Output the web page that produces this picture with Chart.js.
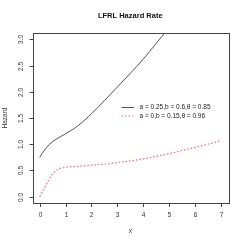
<!DOCTYPE html>
<html>
<head>
<meta charset="utf-8">
<script src="https://cdn.jsdelivr.net/npm/chart.js@4.4.0/dist/chart.umd.min.js"></script>
<style>
  html, body { margin: 0; padding: 0; background: #fff; }
  #wrap { width: 244px; height: 244px; position: relative; }
</style>
</head>
<body>
<div id="wrap"><canvas id="hazardChart"></canvas></div>
<script>
// valores
const xBlack = [0, 0.1, 0.25, 0.5, 0.75, 1, 1.5, 2, 2.5, 3, 3.5, 4, 4.5, 5];
const yBlack = [0.75, 0.83, 0.93, 1.05, 1.13, 1.20, 1.36, 1.58, 1.83, 2.09, 2.35, 2.62, 2.92, 3.22];
const xRed = [0, 0.1, 0.25, 0.5, 0.75, 1, 1.5, 2, 2.5, 3, 3.5, 4, 4.5, 5, 5.5, 6, 6.5, 7];
const yRed = [0, 0.09, 0.23, 0.44, 0.53, 0.56, 0.58, 0.60, 0.62, 0.65, 0.68, 0.72, 0.77, 0.82, 0.88, 0.94, 1.00, 1.07];
const xTicks = [0, 1, 2, 3, 4, 5, 6, 7];
const yTicks = [0, 0.5, 1, 1.5, 2, 2.5, 3];
const yTickLabels = ['0.0', '0.5', '1.0', '1.5', '2.0', '2.5', '3.0'];
const legendLabels = ['a = 0.25,b = 0.6,\u03b8 = 0.85', 'a = 0,b = 0.15,\u03b8 = 0.96'];

const FONT = '"Liberation Sans", Arial, sans-serif';
const BLACK = '#555';
const RED = '#ff6363';

function toPoints(xs, ys) {
    return xs.map((x, i) => ({ x: x, y: ys[i] }));
}

// desenha eixos, títulos e legenda no estilo R
const rStyle = {
    id: 'rStyle',
    afterDraw(chart) {
        const c = chart.ctx;
        const a = chart.chartArea;
        const xs = chart.scales.x;
        const ys = chart.scales.y;
        c.save();
        c.strokeStyle = '#444';
        c.lineWidth = 1;
        c.strokeRect(Math.round(a.left) + 0.5, Math.round(a.top) + 0.5,
            Math.round(a.right - a.left), Math.round(a.bottom - a.top));

        c.fillStyle = '#333';
        c.font = '6.5px ' + FONT;
        c.textAlign = 'center';
        c.textBaseline = 'middle';
        c.beginPath();
        xTicks.forEach(v => {
            const px = Math.round(xs.getPixelForValue(v)) + 0.5;
            c.moveTo(px, Math.round(a.bottom));
            c.lineTo(px, Math.round(a.bottom) + 4);
            c.fillText(String(v), px, 215);
        });
        yTicks.forEach((v, i) => {
            const py = Math.round(ys.getPixelForValue(v)) + 0.5;
            c.moveTo(Math.round(a.left) - 3.5, py);
            c.lineTo(Math.round(a.left), py);
            c.save();
            c.translate(21.5, py);
            c.rotate(-Math.PI / 2);
            c.fillText(yTickLabels[i], 0, 0);
            c.restore();
        });
        c.stroke();

        // títulos dos eixos
        c.fillText('x', (a.left + a.right) / 2, 231.5);
        c.save();
        c.translate(5.5, (a.top + a.bottom) / 2);
        c.rotate(-Math.PI / 2);
        c.fillText('Hazard', 0, 0);
        c.restore();

        c.fillStyle = '#111';
        c.font = 'bold 7.5px ' + FONT;
        c.fillText('LFRL Hazard Rate', (a.left + a.right) / 2, 16);

        // legenda
        c.font = '6.5px ' + FONT;
        c.textAlign = 'left';
        c.fillStyle = '#222';
        const rows = [107.5, 116];
        c.strokeStyle = BLACK;
        c.setLineDash([]);
        c.beginPath();
        c.moveTo(121.5, rows[0]);
        c.lineTo(134, rows[0]);
        c.stroke();
        c.strokeStyle = RED;
        c.setLineDash([1.5, 2]);
        c.beginPath();
        c.moveTo(121.5, rows[1]);
        c.lineTo(134, rows[1]);
        c.stroke();
        c.setLineDash([]);
        c.fillText(legendLabels[0], 139.5, rows[0]);
        c.fillText(legendLabels[1], 139.5, rows[1]);
        c.restore();
    }
};

const ctx = document.getElementById('hazardChart').getContext('2d');
const myChart = new Chart(ctx, {
    type: 'scatter',
    data: {
        datasets: [
            {
                label: legendLabels[0],
                data: toPoints(xBlack, yBlack),
                showLine: true,
                borderColor: BLACK,
                borderWidth: 1,
                pointRadius: 0,
                cubicInterpolationMode: 'monotone'
            },
            {
                label: legendLabels[1],
                data: toPoints(xRed, yRed),
                showLine: true,
                borderColor: RED,
                borderWidth: 1.2,
                borderDash: [1.5, 2],
                pointRadius: 0,
                cubicInterpolationMode: 'monotone'
            }
        ]
    },
    options: {
        responsive: true,
        maintainAspectRatio: false,
        animation: false,
        layout: { padding: { left: 32.5, right: 16, top: 33, bottom: 41 } },
        plugins: {
            legend: { display: false },
            tooltip: { enabled: false }
        },
        scales: {
            x: { type: 'linear', min: -0.28, max: 7.28, display: false },
            y: { type: 'linear', min: -0.12, max: 3.12, display: false }
        }
    },
    plugins: [rStyle]
});
</script>
</body>
</html>
